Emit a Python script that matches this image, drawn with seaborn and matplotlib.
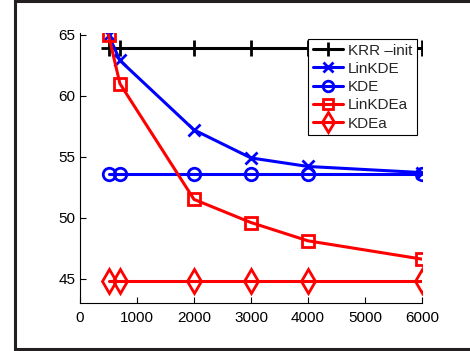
import matplotlib
matplotlib.use('Agg')
import matplotlib.pyplot as plt
import seaborn as sns
from matplotlib.lines import Line2D

# datos
x_vals = [500, 700, 2000, 3000, 4000, 6000]
krr_init = [63.9, 63.9, 63.9, 63.9, 63.9, 63.9]
linkde = [65.0, 62.9, 57.2, 54.9, 54.2, 53.7]
kde = [53.6, 53.6, 53.6, 53.6, 53.6, 53.6]
linkdea = [65.0, 61.0, 51.5, 49.6, 48.1, 46.6]
kdea = [44.8, 44.8, 44.8, 44.8, 44.8, 44.8]

labels = ['KRR \u2013init', 'LinKDE', 'KDE', 'LinKDEa', 'KDEa']

sns.set_style('ticks')
plt.rcParams['font.family'] = ['Liberation Sans', 'DejaVu Sans']
plt.rcParams['xtick.direction'] = 'in'
plt.rcParams['ytick.direction'] = 'in'

fig = plt.figure(figsize=(4.7, 3.51), dpi=100)
ax = fig.add_axes([80/470, 1-303/351, 342/470, 270/351])

series = [
    (krr_init, 'black', '+', 12),
    (linkde, 'blue', 'x', 8),
    (kde, 'blue', 'o', 9),
    (linkdea, 'red', 's', 8),
    (kdea, 'red', 'd', 12),
]

for (vals, color, marker, ms), lab in zip(series, labels):
    sns.lineplot(x=x_vals, y=vals, ax=ax, color=color, marker=marker, markersize=ms,
                 markerfacecolor='none', markeredgecolor=color, markeredgewidth=2,
                 linewidth=2.2, label=lab)

ax.set_xlim(0, 6000)
ax.set_ylim(43, 65.15)
ax.set_xticks([0, 1000, 2000, 3000, 4000, 5000, 6000])
ax.set_yticks([45, 50, 55, 60, 65])
ax.tick_params(labelsize=11, length=4, width=0.8, colors='black')
ax.tick_params(axis='x', pad=6)
for s in ['left', 'bottom']:
    ax.spines[s].set_color('black')
    ax.spines[s].set_linewidth(0.8)
sns.despine(ax=ax)

leg = ax.legend(loc='upper right', bbox_to_anchor=(0.985, 0.978), borderaxespad=0,
                fontsize=11, frameon=True, fancybox=False, handlelength=2.0,
                handletextpad=0.3, labelspacing=0.28, borderpad=0.3, markerscale=0.85)
leg.get_frame().set_edgecolor('black')
leg.get_frame().set_linewidth(0.8)
leg.get_frame().set_alpha(1)

# marco exterior
frame_col = '#231f20'
fig.add_artist(Line2D([15/470, 15/470], [0.5/351, 1], transform=fig.transFigure, color=frame_col, linewidth=2.2))
fig.add_artist(Line2D([15/470, 1], [1-0.8/351, 1-0.8/351], transform=fig.transFigure, color=frame_col, linewidth=2.2))
fig.add_artist(Line2D([15/470, 1], [2/351, 2/351], transform=fig.transFigure, color=frame_col, linewidth=2.2))

plt.savefig('out.png', dpi=100)
